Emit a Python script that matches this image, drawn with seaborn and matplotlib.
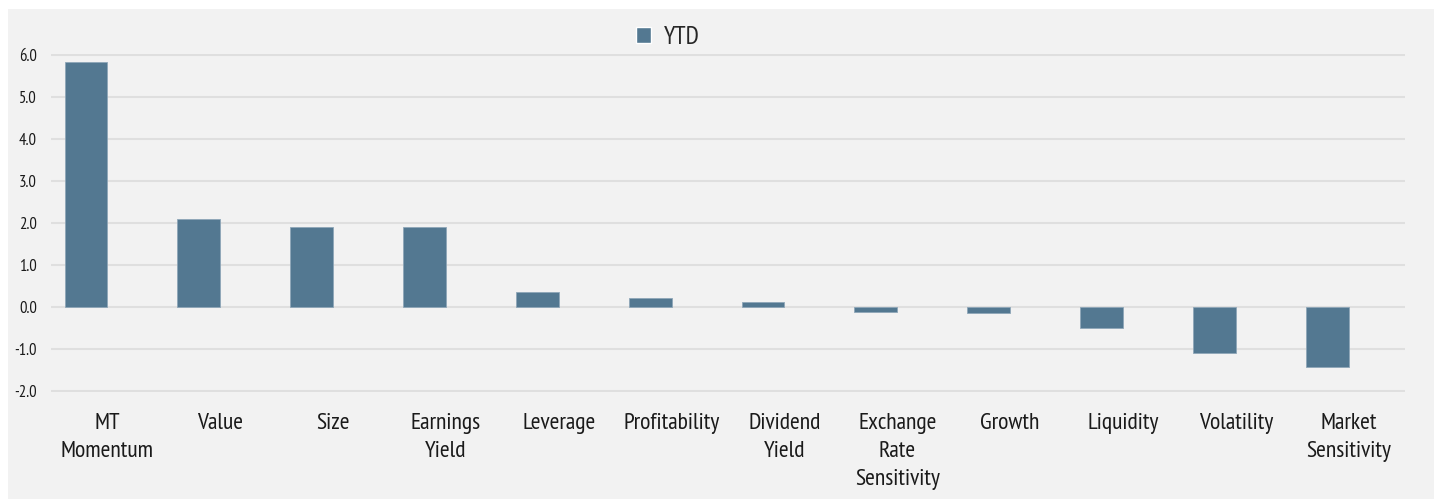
# YTD factor returns bar chart

import numpy as np
import pandas as pd
import matplotlib as mpl
from matplotlib import pyplot as plt
from matplotlib.patches import Patch, Rectangle
import seaborn as sns

factors = ['MT\nMomentum', 'Value', 'Size', 'Earnings\nYield', 'Leverage',
           'Profitability', 'Dividend\nYield', 'Exchange\nRate\nSensitivity',
           'Growth', 'Liquidity', 'Volatility', 'Market\nSensitivity']
ytd = [5.83, 2.10, 1.91, 1.91, 0.36, 0.22, 0.12, -0.12, -0.14, -0.49, -1.10, -1.43]
y_ticks = [-2.0, -1.0, 0.0, 1.0, 2.0, 3.0, 4.0, 5.0, 6.0]
y_tick_labels = ['-2.0', '-1.0', '0.0', '1.0', '2.0', '3.0', '4.0', '5.0', '6.0']
series = 'YTD'

bar_color = '#537891'
panel_color = '#f2f2f2'
grid_color = '#dfdfdf'

sns.set_style('white')
plt.rcParams['font.family'] = ['PT Sans Narrow', 'Roboto Condensed', 'DejaVu Sans']

# second (empty) series only reserves the right half of each slot, like the source chart
df = pd.DataFrame({
    'factor': factors * 2,
    'series': [series] * len(factors) + ['blank'] * len(factors),
    'value': ytd + [np.nan] * len(factors),
})

fig = plt.figure(figsize=(14.34, 4.99), dpi=100)
fig.patches.append(Rectangle((8 / 1434, 0), 1, 1 - 9 / 499, transform=fig.transFigure,
                             facecolor=panel_color, edgecolor='none', zorder=-10))

ax = fig.add_axes([51 / 1434, 1 - 392.3 / 499, (1405 - 51) / 1434, (392.3 - 53.7) / 499])
ax.set_facecolor('none')

sns.barplot(data=df, x='factor', y='value', hue='series', hue_order=[series, 'blank'],
            order=factors, palette={series: bar_color, 'blank': bar_color}, saturation=1,
            width=0.76, dodge=True, errorbar=None, legend=False, ax=ax,
            edgecolor='#8ea6b8', linewidth=0.6, zorder=3)

ax.set_xlim(-0.5, len(factors) - 0.5)
ax.set_ylim(-2.03, 6.03)
ax.set_yticks(y_ticks)
ax.set_yticklabels(y_tick_labels, fontsize=12, color='#1a1a1a')
ax.tick_params(axis='y', length=0, pad=10)
ax.tick_params(axis='x', length=0, pad=15, labelsize=17, labelcolor='#1a1a1a')
for lbl in ax.get_xticklabels():
    lbl.set_linespacing(1.42)
    lbl.set_verticalalignment('top')
ax.set_xlabel('')
ax.set_ylabel('')
ax.grid(axis='y', color=grid_color, linewidth=1.5, zorder=0)
ax.set_axisbelow(True)
for s in ax.spines.values():
    s.set_visible(False)

fig.legend(handles=[Patch(facecolor=bar_color, label=series)], loc='center left',
           bbox_to_anchor=(636 / 1434, 1 - 37 / 499), frameon=False, fontsize=18,
           borderpad=0, borderaxespad=0,
           handlelength=0.6, handleheight=0.6, handletextpad=0.5)

fig.savefig('out.png', dpi=100)
